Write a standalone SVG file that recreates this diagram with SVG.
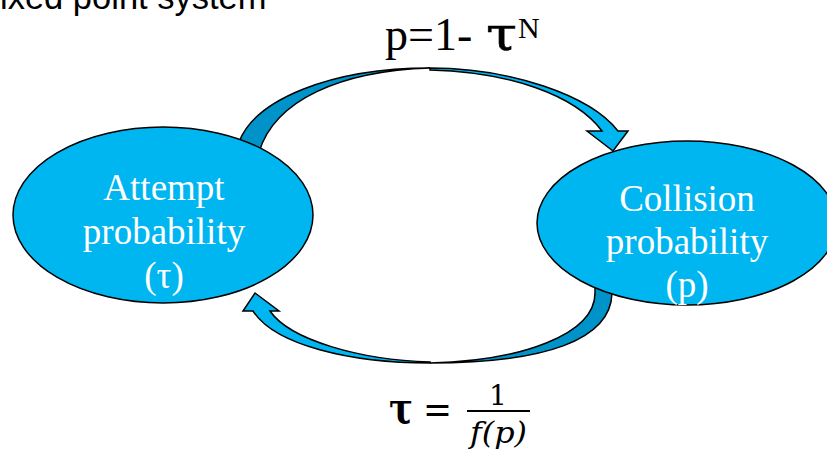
<svg xmlns="http://www.w3.org/2000/svg" width="827" height="449" viewBox="0 0 827 449">
<style>
.light{fill:#00B6F0;stroke:#000;stroke-width:1.5}
.dark{fill:#0093C9;stroke:#000;stroke-width:1.5}
.node{fill:#00B6F0;stroke:#000;stroke-width:1.5}
.nt{font-family:"Liberation Serif","Times New Roman",serif;font-size:37px;fill:#fff;text-anchor:middle}
</style>
<rect width="827" height="449" fill="#fff"/>
<text x="0" y="9" font-family="Liberation Sans, Arial, sans-serif" font-size="34.5" fill="#000">ixed point system</text>
<g id="connectors">
  <g id="arrow-top">
    <path class="dark" d="M239,152 L239,142 C255,100 330,68 430,68 C340,71 275,100 259,152 Z"/>
    <path class="light" d="M430,68 C510,68 590,95 618,131 L628,131 L613,151 L587,131 L602,131 C575,95 510,72 430,70 Z"/>
  </g>
  <g id="arrow-bottom">
    <path class="dark" d="M612,284 L612,293 C611,340 545,363 430,363 C520,361 595,335 595,293 L595,284 Z"/>
    <path class="light" d="M430,363 C350,363 275,345 253,311 L243,311 L255,293 L279,311 L270,311 C290,340 360,360 430,362 Z"/>
  </g>
</g>
<g id="node-attempt">
  <ellipse class="node" cx="163" cy="215" rx="150" ry="88"/>
  <text class="nt" x="164" y="200">Attempt</text>
  <text class="nt" x="164" y="244">probability</text>
  <text class="nt" x="164" y="288">(τ)</text>
</g>
<g id="node-collision">
  <ellipse class="node" cx="687" cy="223" rx="150" ry="82"/>
  <text class="nt" x="687" y="211">Collision</text>
  <text class="nt" x="687" y="254">probability</text>
  <text class="nt" x="687" y="297">(p)</text>
</g>
<g id="label-top">
  <text x="385" y="50" font-family="Liberation Serif, Times New Roman, serif" font-size="46" fill="#000">p=1-</text>
  <text x="486" y="50" font-family="DejaVu Serif, serif" font-size="46" fill="#000" stroke="#000" stroke-width="0.6" textLength="31" lengthAdjust="spacingAndGlyphs">τ</text>
  <text x="518" y="38" font-family="Liberation Serif, Times New Roman, serif" font-size="30" fill="#000">N</text>
</g>
<g id="label-bottom">
  <text x="389" y="423" font-family="DejaVu Serif, serif" font-size="42" font-weight="bold" fill="#000" textLength="24" lengthAdjust="spacingAndGlyphs">τ</text>
  <text x="423" y="423" font-family="DejaVu Serif, serif" font-size="40" fill="#000" textLength="29" lengthAdjust="spacingAndGlyphs">=</text>
  <line x1="467" y1="411" x2="530" y2="411" stroke="#000" stroke-width="2"/>
  <text x="498" y="405" font-family="DejaVu Serif, serif" font-size="28" fill="#000" text-anchor="middle">1</text>
  <text x="470" y="443" font-family="DejaVu Serif, serif" font-style="italic" font-size="30" fill="#000" textLength="57" lengthAdjust="spacingAndGlyphs">f(p)</text>
</g>
</svg>
